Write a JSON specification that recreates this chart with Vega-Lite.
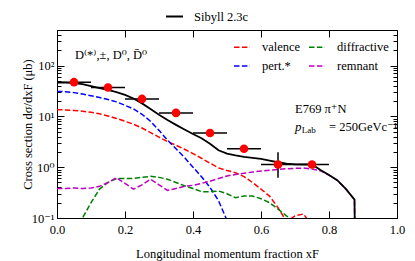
{
  "$schema": "https://vega.github.io/schema/vega-lite/v6.json",
  "width": 340,
  "height": 188,
  "autosize": {"type": "none"},
  "padding": {"left": 57, "top": 30, "right": 18, "bottom": 43},
  "background": "white",
  "config": {
    "font": "Liberation Serif, Times New Roman, DejaVu Serif, serif",
    "view": {"stroke": "black", "strokeWidth": 1},
    "axis": {
      "grid": false,
      "domainColor": "black",
      "tickColor": "black",
      "labelColor": "black",
      "titleColor": "black",
      "labelFont": "Liberation Serif, Times New Roman, DejaVu Serif, serif",
      "titleFont": "Liberation Serif, Times New Roman, DejaVu Serif, serif",
      "labelFontSize": 12.5,
      "titleFontSize": 12.5,
      "titleFontWeight": "normal",
      "tickWidth": 1,
      "domainWidth": 1
    },
    "legend": {
      "labelFont": "Liberation Serif, Times New Roman, DejaVu Serif, serif",
      "labelFontSize": 12.5,
      "labelColor": "black"
    },
    "text": {"font": "Liberation Serif, Times New Roman, DejaVu Serif, serif"}
  },
  "datasets": {
    "comp": [
      {"x": 0, "y": 13.5, "component": "valence"},
      {"x": 0.025, "y": 13.4, "component": "valence"},
      {"x": 0.05, "y": 13.1, "component": "valence"},
      {"x": 0.075, "y": 12.6, "component": "valence"},
      {"x": 0.1, "y": 12.0, "component": "valence"},
      {"x": 0.125, "y": 11.2, "component": "valence"},
      {"x": 0.15, "y": 10.2, "component": "valence"},
      {"x": 0.175, "y": 9.1, "component": "valence"},
      {"x": 0.2, "y": 8.0, "component": "valence"},
      {"x": 0.225, "y": 7.0, "component": "valence"},
      {"x": 0.25, "y": 5.9, "component": "valence"},
      {"x": 0.275, "y": 4.8, "component": "valence"},
      {"x": 0.3, "y": 3.9, "component": "valence"},
      {"x": 0.325, "y": 3.2, "component": "valence"},
      {"x": 0.35, "y": 2.7, "component": "valence"},
      {"x": 0.375, "y": 2.25, "component": "valence"},
      {"x": 0.4, "y": 1.85, "component": "valence"},
      {"x": 0.425, "y": 1.5, "component": "valence"},
      {"x": 0.45, "y": 1.2, "component": "valence"},
      {"x": 0.475, "y": 0.97, "component": "valence"},
      {"x": 0.5, "y": 0.86, "component": "valence"},
      {"x": 0.525, "y": 0.78, "component": "valence"},
      {"x": 0.55, "y": 0.65, "component": "valence"},
      {"x": 0.575, "y": 0.5, "component": "valence"},
      {"x": 0.6, "y": 0.37, "component": "valence"},
      {"x": 0.625, "y": 0.27, "component": "valence"},
      {"x": 0.65, "y": 0.16, "component": "valence"},
      {"x": 0.675, "y": 0.085, "component": "valence"},
      {"x": 0.7, "y": 0.11, "component": "valence"},
      {"x": 0.725, "y": 0.12, "component": "valence"},
      {"x": 0.75, "y": 0.07, "component": "valence"},

      {"x": 0, "y": 31, "component": "pert.*"},
      {"x": 0.025, "y": 30.5, "component": "pert.*"},
      {"x": 0.05, "y": 29.3, "component": "pert.*"},
      {"x": 0.075, "y": 27.5, "component": "pert.*"},
      {"x": 0.1, "y": 25.5, "component": "pert.*"},
      {"x": 0.125, "y": 23.5, "component": "pert.*"},
      {"x": 0.15, "y": 21.5, "component": "pert.*"},
      {"x": 0.175, "y": 19.3, "component": "pert.*"},
      {"x": 0.2, "y": 16.5, "component": "pert.*"},
      {"x": 0.225, "y": 14.0, "component": "pert.*"},
      {"x": 0.25, "y": 11.0, "component": "pert.*"},
      {"x": 0.275, "y": 8.0, "component": "pert.*"},
      {"x": 0.3, "y": 5.3, "component": "pert.*"},
      {"x": 0.325, "y": 3.4, "component": "pert.*"},
      {"x": 0.35, "y": 2.3, "component": "pert.*"},
      {"x": 0.375, "y": 1.55, "component": "pert.*"},
      {"x": 0.4, "y": 1.0, "component": "pert.*"},
      {"x": 0.425, "y": 0.65, "component": "pert.*"},
      {"x": 0.45, "y": 0.4, "component": "pert.*"},
      {"x": 0.475, "y": 0.22, "component": "pert.*"},
      {"x": 0.5, "y": 0.09, "component": "pert.*"},

      {"x": 0.06, "y": 0.08, "component": "diffractive"},
      {"x": 0.075, "y": 0.1, "component": "diffractive"},
      {"x": 0.1, "y": 0.2, "component": "diffractive"},
      {"x": 0.125, "y": 0.37, "component": "diffractive"},
      {"x": 0.15, "y": 0.5, "component": "diffractive"},
      {"x": 0.175, "y": 0.6, "component": "diffractive"},
      {"x": 0.2, "y": 0.6, "component": "diffractive"},
      {"x": 0.225, "y": 0.6, "component": "diffractive"},
      {"x": 0.25, "y": 0.63, "component": "diffractive"},
      {"x": 0.275, "y": 0.66, "component": "diffractive"},
      {"x": 0.3, "y": 0.63, "component": "diffractive"},
      {"x": 0.325, "y": 0.58, "component": "diffractive"},
      {"x": 0.35, "y": 0.5, "component": "diffractive"},
      {"x": 0.375, "y": 0.43, "component": "diffractive"},
      {"x": 0.4, "y": 0.38, "component": "diffractive"},
      {"x": 0.425, "y": 0.33, "component": "diffractive"},
      {"x": 0.45, "y": 0.33, "component": "diffractive"},
      {"x": 0.475, "y": 0.34, "component": "diffractive"},
      {"x": 0.5, "y": 0.3, "component": "diffractive"},
      {"x": 0.525, "y": 0.25, "component": "diffractive"},
      {"x": 0.55, "y": 0.27, "component": "diffractive"},
      {"x": 0.575, "y": 0.27, "component": "diffractive"},
      {"x": 0.6, "y": 0.24, "component": "diffractive"},
      {"x": 0.625, "y": 0.2, "component": "diffractive"},
      {"x": 0.65, "y": 0.15, "component": "diffractive"},
      {"x": 0.675, "y": 0.11, "component": "diffractive"},
      {"x": 0.7, "y": 0.08, "component": "diffractive"},

      {"x": 0, "y": 0.38, "component": "remnant"},
      {"x": 0.025, "y": 0.38, "component": "remnant"},
      {"x": 0.05, "y": 0.39, "component": "remnant"},
      {"x": 0.075, "y": 0.38, "component": "remnant"},
      {"x": 0.1, "y": 0.39, "component": "remnant"},
      {"x": 0.125, "y": 0.42, "component": "remnant"},
      {"x": 0.15, "y": 0.5, "component": "remnant"},
      {"x": 0.175, "y": 0.62, "component": "remnant"},
      {"x": 0.2, "y": 0.48, "component": "remnant"},
      {"x": 0.225, "y": 0.37, "component": "remnant"},
      {"x": 0.25, "y": 0.45, "component": "remnant"},
      {"x": 0.275, "y": 0.58, "component": "remnant"},
      {"x": 0.3, "y": 0.45, "component": "remnant"},
      {"x": 0.325, "y": 0.35, "component": "remnant"},
      {"x": 0.35, "y": 0.38, "component": "remnant"},
      {"x": 0.375, "y": 0.42, "component": "remnant"},
      {"x": 0.4, "y": 0.44, "component": "remnant"},
      {"x": 0.425, "y": 0.48, "component": "remnant"},
      {"x": 0.45, "y": 0.53, "component": "remnant"},
      {"x": 0.475, "y": 0.6, "component": "remnant"},
      {"x": 0.5, "y": 0.67, "component": "remnant"},
      {"x": 0.525, "y": 0.72, "component": "remnant"},
      {"x": 0.55, "y": 0.76, "component": "remnant"},
      {"x": 0.575, "y": 0.8, "component": "remnant"},
      {"x": 0.6, "y": 0.84, "component": "remnant"},
      {"x": 0.625, "y": 0.87, "component": "remnant"},
      {"x": 0.65, "y": 0.9, "component": "remnant"},
      {"x": 0.675, "y": 0.93, "component": "remnant"},
      {"x": 0.7, "y": 0.95, "component": "remnant"},
      {"x": 0.725, "y": 0.96, "component": "remnant"},
      {"x": 0.75, "y": 0.92, "component": "remnant"},
      {"x": 0.775, "y": 0.85, "component": "remnant"},
      {"x": 0.8, "y": 0.7, "component": "remnant"},
      {"x": 0.825, "y": 0.55, "component": "remnant"},
      {"x": 0.85, "y": 0.37, "component": "remnant"},
      {"x": 0.875, "y": 0.23, "component": "remnant"},
      {"x": 0.876, "y": 0.05, "component": "remnant"}
    ],
    "sibyll": [
      {"x": 0, "y": 46, "model": "Sibyll 2.3c"},
      {"x": 0.025, "y": 46, "model": "Sibyll 2.3c"},
      {"x": 0.05, "y": 45, "model": "Sibyll 2.3c"},
      {"x": 0.075, "y": 43, "model": "Sibyll 2.3c"},
      {"x": 0.1, "y": 39.5, "model": "Sibyll 2.3c"},
      {"x": 0.125, "y": 36, "model": "Sibyll 2.3c"},
      {"x": 0.15, "y": 33, "model": "Sibyll 2.3c"},
      {"x": 0.175, "y": 30, "model": "Sibyll 2.3c"},
      {"x": 0.2, "y": 26.5, "model": "Sibyll 2.3c"},
      {"x": 0.225, "y": 22.5, "model": "Sibyll 2.3c"},
      {"x": 0.25, "y": 18, "model": "Sibyll 2.3c"},
      {"x": 0.275, "y": 14, "model": "Sibyll 2.3c"},
      {"x": 0.3, "y": 10.8, "model": "Sibyll 2.3c"},
      {"x": 0.325, "y": 8.5, "model": "Sibyll 2.3c"},
      {"x": 0.35, "y": 6.8, "model": "Sibyll 2.3c"},
      {"x": 0.375, "y": 5.5, "model": "Sibyll 2.3c"},
      {"x": 0.4, "y": 4.5, "model": "Sibyll 2.3c"},
      {"x": 0.425, "y": 3.7, "model": "Sibyll 2.3c"},
      {"x": 0.45, "y": 2.9, "model": "Sibyll 2.3c"},
      {"x": 0.475, "y": 2.15, "model": "Sibyll 2.3c"},
      {"x": 0.5, "y": 1.85, "model": "Sibyll 2.3c"},
      {"x": 0.525, "y": 1.7, "model": "Sibyll 2.3c"},
      {"x": 0.55, "y": 1.6, "model": "Sibyll 2.3c"},
      {"x": 0.575, "y": 1.53, "model": "Sibyll 2.3c"},
      {"x": 0.6, "y": 1.45, "model": "Sibyll 2.3c"},
      {"x": 0.625, "y": 1.35, "model": "Sibyll 2.3c"},
      {"x": 0.65, "y": 1.25, "model": "Sibyll 2.3c"},
      {"x": 0.675, "y": 1.18, "model": "Sibyll 2.3c"},
      {"x": 0.7, "y": 1.14, "model": "Sibyll 2.3c"},
      {"x": 0.75, "y": 1.13, "model": "Sibyll 2.3c"},
      {"x": 0.775, "y": 0.88, "model": "Sibyll 2.3c"},
      {"x": 0.8, "y": 0.7, "model": "Sibyll 2.3c"},
      {"x": 0.825, "y": 0.55, "model": "Sibyll 2.3c"},
      {"x": 0.85, "y": 0.37, "model": "Sibyll 2.3c"},
      {"x": 0.875, "y": 0.23, "model": "Sibyll 2.3c"},
      {"x": 0.876, "y": 0.05, "model": "Sibyll 2.3c"}
    ],
    "pts": [
      {"x": 0.05, "xlo": 0.0, "xhi": 0.1, "y": 47, "ylo": 47, "yhi": 47},
      {"x": 0.15, "xlo": 0.1, "xhi": 0.2, "y": 37, "ylo": 37, "yhi": 37},
      {"x": 0.25, "xlo": 0.2, "xhi": 0.3, "y": 22, "ylo": 22, "yhi": 22},
      {"x": 0.35, "xlo": 0.3, "xhi": 0.4, "y": 11.7, "ylo": 11.7, "yhi": 11.7},
      {"x": 0.45, "xlo": 0.4, "xhi": 0.5, "y": 4.7, "ylo": 4.7, "yhi": 4.7},
      {"x": 0.55, "xlo": 0.5, "xhi": 0.6, "y": 2.3, "ylo": 2.3, "yhi": 2.3},
      {"x": 0.65, "xlo": 0.6, "xhi": 0.7, "y": 1.13, "ylo": 0.62, "yhi": 1.97},
      {"x": 0.75, "xlo": 0.7, "xhi": 0.8, "y": 1.13, "ylo": 1.13, "yhi": 1.13}
    ]
  },
  "layer": [
    {
      "layer": [
        {
          "data": {"name": "comp"},
          "mark": {"type": "line", "strokeDash": [5.5, 2.4], "strokeWidth": 1.5, "clip": true},
          "encoding": {
            "x": {
              "field": "x", "type": "quantitative",
              "scale": {"domain": [0, 1], "nice": false, "zero": false},
              "axis": {
                "title": "Longitudinal momentum fraction xF",
                "values": [0, 0.2, 0.4, 0.6, 0.8, 1],
                "format": ".1f",
                "tickSize": -7,
                "labelPadding": 12,
                "labelFlush": false,
                "titlePadding": 12
              }
            },
            "y": {
              "field": "y", "type": "quantitative",
              "scale": {"type": "log", "domain": [0.1, 500], "nice": false},
              "axis": {
                "title": "Cross section dσ/dxF (μb)",
                "values": [0.1, 0.2, 0.3, 0.4, 0.5, 0.6, 0.7, 0.8, 0.9, 1, 2, 3, 4, 5, 6, 7, 8, 9, 10, 20, 30, 40, 50, 60, 70, 80, 90, 100, 200, 300, 400, 500],
                "labelExpr": "datum.value == 0.1 ? '10⁻¹' : datum.value == 1 ? '10⁰' : datum.value == 10 ? '10¹' : datum.value == 100 ? '10²' : ''",
                "tickSize": {"condition": {"test": "datum.value == 0.1 || datum.value == 1 || datum.value == 10 || datum.value == 100", "value": -7}, "value": -4},
                "labelPadding": 10,
                "labelFlush": false,
                "labelOverlap": false,
                "titlePadding": -3
              }
            },
            "color": {
              "field": "component", "type": "nominal",
              "scale": {"domain": ["valence", "pert.*", "diffractive", "remnant"], "range": ["#ff0000", "#0000ff", "#008000", "#bf00bf"]},
              "legend": {
                "orient": "none", "legendX": 176, "legendY": 8,
                "columns": 2, "title": null,
                "symbolType": "stroke", "symbolSize": 256, "symbolStrokeWidth": 1.5,
                "symbolDash": [5.5, 2.4],
                "labelOffset": 11, "columnPadding": 5, "rowPadding": 3, "padding": 0
              }
            }
          }
        },
        {
          "data": {"name": "sibyll"},
          "mark": {"type": "line", "strokeWidth": 1.8, "clip": true},
          "encoding": {
            "x": {"field": "x", "type": "quantitative"},
            "y": {"field": "y", "type": "quantitative"},
            "color": {
              "field": "model", "type": "nominal",
              "scale": {"domain": ["Sibyll 2.3c"], "range": ["black"]},
              "legend": {
                "orient": "none", "legendX": 108, "legendY": -23, "title": null,
                "symbolType": "stroke", "symbolSize": 289, "symbolStrokeWidth": 2,
                "labelOffset": 10, "padding": 0
              }
            }
          }
        },
        {
          "data": {"name": "pts"},
          "mark": {"type": "rule", "color": "black", "strokeWidth": 1.5},
          "encoding": {
            "x": {"field": "xlo", "type": "quantitative"},
            "x2": {"field": "xhi"},
            "y": {"field": "y", "type": "quantitative"}
          }
        },
        {
          "data": {"name": "pts"},
          "mark": {"type": "rule", "color": "black", "strokeWidth": 1.5},
          "encoding": {
            "x": {"field": "x", "type": "quantitative"},
            "y": {"field": "ylo", "type": "quantitative"},
            "y2": {"field": "yhi"}
          }
        },
        {
          "data": {"name": "pts"},
          "mark": {"type": "circle", "color": "#ff0000", "opacity": 1, "size": 75},
          "encoding": {
            "x": {"field": "x", "type": "quantitative"},
            "y": {"field": "y", "type": "quantitative"}
          }
        },
        {
          "data": {"values": [{}]},
          "mark": {"type": "text", "align": "left", "baseline": "alphabetic", "fontSize": 12.5, "color": "black", "text": "D⁽*⁾,±, D⁰, D̄⁰"},
          "encoding": {"x": {"datum": 0.053}, "y": {"datum": 135}}
        },
        {
          "data": {"values": [{}]},
          "mark": {"type": "text", "align": "left", "baseline": "alphabetic", "fontSize": 12.5, "color": "black", "text": "E769 π⁺N"},
          "encoding": {"x": {"datum": 0.7}, "y": {"datum": 11.7}}
        },
        {
          "data": {"values": [{}]},
          "mark": {"type": "text", "align": "left", "baseline": "alphabetic", "fontSize": 13, "fontStyle": "italic", "color": "black", "text": "p"},
          "encoding": {"x": {"datum": 0.7}, "y": {"datum": 5.25}}
        },
        {
          "data": {"values": [{}]},
          "mark": {"type": "text", "align": "left", "baseline": "alphabetic", "fontSize": 9, "color": "black", "text": "Lab"},
          "encoding": {"x": {"datum": 0.72}, "y": {"datum": 4.75}}
        },
        {
          "data": {"values": [{}]},
          "mark": {"type": "text", "align": "left", "baseline": "alphabetic", "fontSize": 12.5, "color": "black", "text": "= 250GeVc⁻¹"},
          "encoding": {"x": {"datum": 0.8}, "y": {"datum": 5.25}}
        }
      ],
      "resolve": {"scale": {"color": "independent"}}
    },
    {
      "data": {"name": "pts"},
      "mark": {"type": "point", "opacity": 0},
      "encoding": {
        "x": {
          "field": "x", "type": "quantitative",
          "scale": {"domain": [0, 1], "nice": false, "zero": false},
          "axis": {"orient": "top", "values": [0, 0.2, 0.4, 0.6, 0.8, 1], "labels": false, "title": null, "tickSize": -7, "domain": false}
        },
        "y": {
          "field": "y", "type": "quantitative",
          "scale": {"type": "log", "domain": [0.1, 500], "nice": false},
          "axis": {
            "orient": "right",
            "values": [0.1, 0.2, 0.3, 0.4, 0.5, 0.6, 0.7, 0.8, 0.9, 1, 2, 3, 4, 5, 6, 7, 8, 9, 10, 20, 30, 40, 50, 60, 70, 80, 90, 100, 200, 300, 400, 500],
            "labels": false, "title": null, "domain": false,
            "tickSize": {"condition": {"test": "datum.value == 0.1 || datum.value == 1 || datum.value == 10 || datum.value == 100", "value": -7}, "value": -4}
          }
        }
      }
    }
  ],
  "resolve": {"scale": {"x": "independent", "y": "independent", "color": "independent"}}
}
